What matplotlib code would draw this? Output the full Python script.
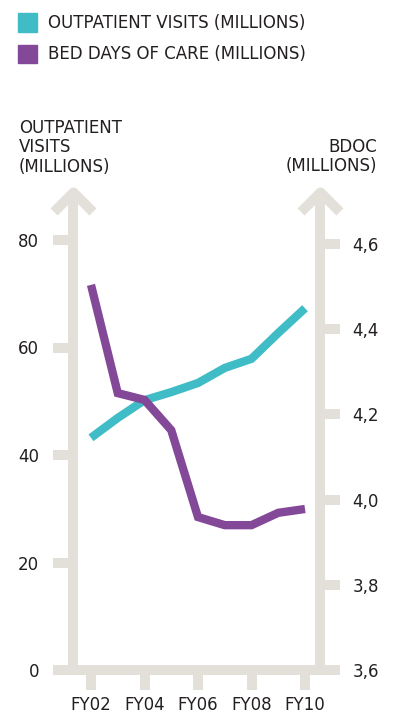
import matplotlib
matplotlib.use('Agg')
import matplotlib.pyplot as plt
from matplotlib.patches import Rectangle
from matplotlib.path import Path
from matplotlib.markers import MarkerStyle

# data
years = [2, 3, 4, 5, 6, 7, 8, 9, 10]
outpatient = [43.2, 46.9, 50.2, 51.7, 53.4, 56.2, 57.9, 62.7, 67.3]
bdoc = [4.504, 4.250, 4.234, 4.163, 3.959, 3.940, 3.940, 3.969, 3.978]
xtick_years = [2, 4, 6, 8, 10]
xtick_labels = ['FY02', 'FY04', 'FY06', 'FY08', 'FY10']
left_ticks = [0, 20, 40, 60, 80]
right_ticks = [3.6, 3.8, 4.0, 4.2, 4.4, 4.6]
right_labels = ['3,6', '3,8', '4,0', '4,2', '4,4', '4,6']

TEAL = '#3fbcc5'
PURPLE = '#844898'
GREY = '#e3e0d9'
TXT = '#231f20'
FS = 12

plt.rcParams['font.family'] = ['DejaVu Sans']
W, H = 395, 713
fig = plt.figure(figsize=(W / 100, H / 100), dpi=100)

# axes box in pixels: left spine x=73, right spine x=320, bottom y=670, top y=192
ax = fig.add_axes([73 / W, 1 - 670 / H, (320 - 73) / W, (670 - 192) / H])
ax2 = ax.twinx()

ax.set_xlim(2 - 18 / 26.75, 10 + 15 / 26.75)
ax.set_ylim(0, (670 - 192) / 5.375)
ax2.set_ylim(3.6, 3.6 + (670 - 192) / 426)

spine_lw = 7.2
for a in (ax, ax2):
    for s in a.spines.values():
        s.set_visible(False)
    a.patch.set_visible(False)

ax.spines['left'].set_visible(True)
ax.spines['bottom'].set_visible(True)
ax2.spines['right'].set_visible(True)
for s in (ax.spines['left'], ax.spines['bottom'], ax2.spines['right']):
    s.set_color(GREY)
    s.set_linewidth(spine_lw)
    s.set_capstyle('butt')

ax.plot(years, outpatient, color=TEAL, lw=6, solid_capstyle='butt',
        solid_joinstyle='miter', zorder=3)
ax2.plot(years, bdoc, color=PURPLE, lw=6, solid_capstyle='butt',
         solid_joinstyle='miter', zorder=3)

ax.set_yticks(left_ticks)
ax.set_yticklabels([str(t) for t in left_ticks])
ax2.set_yticks(right_ticks)
ax2.set_yticklabels(right_labels)
ax.set_xticks(xtick_years)
ax.set_xticklabels(xtick_labels)

ax.tick_params(axis='y', direction='out', length=14.4, width=spine_lw, color=GREY,
               pad=10, labelsize=FS, labelcolor=TXT)
ax2.tick_params(axis='y', direction='out', length=14.4, width=spine_lw, color=GREY,
                pad=9, labelsize=FS, labelcolor=TXT)
ax.tick_params(axis='x', direction='out', length=14.4, width=spine_lw, color=GREY,
               pad=4, labelsize=FS, labelcolor=TXT)

# chevron arrowheads at top of both vertical axes
chev = Path([(-1, -1), (0, 0), (1, -1)], [Path.MOVETO, Path.LINETO, Path.LINETO])
mk = MarkerStyle(chev, joinstyle='miter', capstyle='butt')
for xa in (0, 1):
    ax.plot([xa], [1], marker=mk, markersize=28, markeredgewidth=spine_lw,
            markeredgecolor=GREY, markerfacecolor='none', transform=ax.transAxes,
            clip_on=False, zorder=2)

# axis titles
fig.text(19 / W, 1 - 119 / H, 'OUTPATIENT\nVISITS\n(MILLIONS)', ha='left', va='top',
         fontsize=FS, color=TXT, linespacing=1.1)
fig.text(377 / W, 1 - 138 / H, 'BDOC\n(MILLIONS)', ha='right', va='top',
         fontsize=FS, color=TXT, linespacing=1.1, multialignment='right')

# legend
fig.add_artist(Rectangle((18 / W, 1 - 32 / H), 19 / W, 19 / H,
                         transform=fig.transFigure, color=TEAL))
fig.add_artist(Rectangle((18 / W, 1 - 63 / H), 19 / W, 18 / H,
                         transform=fig.transFigure, color=PURPLE))
fig.text(48 / W, 1 - 22.5 / H, 'OUTPATIENT VISITS (MILLIONS)', ha='left', va='center',
         fontsize=FS, color=TXT)
fig.text(48 / W, 1 - 54 / H, 'BED DAYS OF CARE (MILLIONS)', ha='left', va='center',
         fontsize=FS, color=TXT)

fig.savefig('out.png', dpi=100)
